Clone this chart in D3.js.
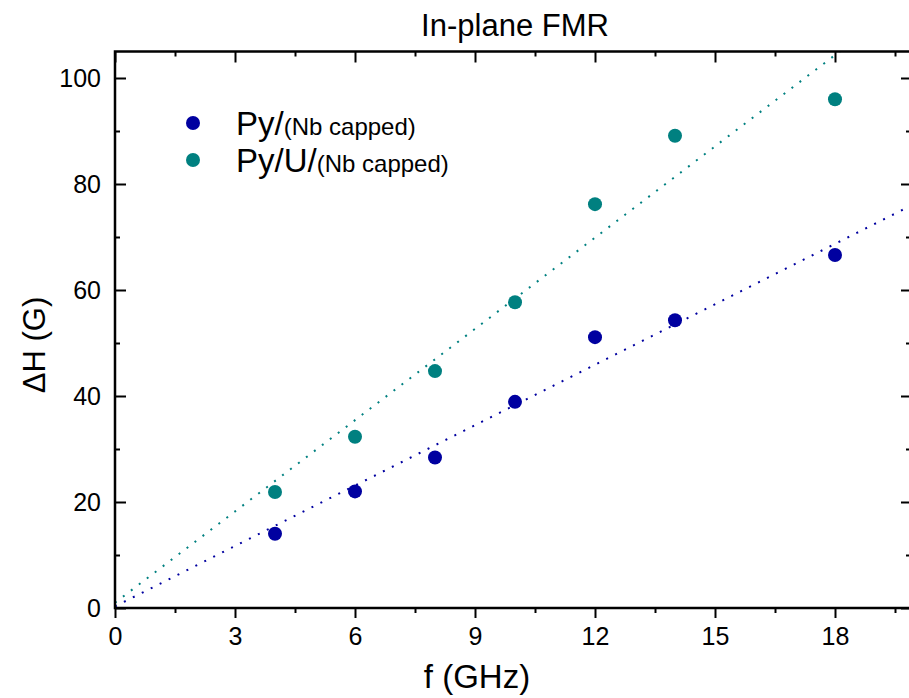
<!DOCTYPE html>
<html>
<head>
<meta charset="utf-8">
<script src="https://cdn.jsdelivr.net/npm/d3@7.9.0/dist/d3.min.js"></script>
<style>
  body { margin: 0; background: #fff; }
  svg { display: block; font-family: "Liberation Sans", Arial, sans-serif; }
</style>
</head>
<body>
<svg id="chart" width="909" height="698"></svg>
<script>
// frequencies (GHz)
const freqs = [4, 6, 8, 10, 12, 14, 18];
// linewidth dH (G)
const pyValues = [14.0, 22.0, 28.4, 38.9, 51.1, 54.3, 66.6];
const pyUValues = [21.9, 32.3, 44.7, 57.7, 76.2, 89.1, 96.0];
// linear fits [intercept, slope]
const pyFit = [0.3, 3.8];
const pyUFit = [1.0, 5.74];

const xTicks = [0, 3, 6, 9, 12, 15, 18];
const xMinor = [1.5, 4.5, 7.5, 10.5, 13.5, 16.5, 19.5];
const yTicks = [0, 20, 40, 60, 80, 100];
const yMinor = [10, 30, 50, 70, 90];

const series = [
    { label: "Py/", sub: "(Nb capped)", values: pyValues, fit: pyFit, color: "#0000a0" },
    { label: "Py/U/", sub: "(Nb capped)", values: pyUValues, fit: pyUFit, color: "#008080" }
];

const svg = d3.select("#chart");

const plotLeft = 115, plotRight = 911, plotTop = 51.5, plotBottom = 608;
const x = d3.scaleLinear().domain([0, 19.9]).range([plotLeft, plotRight]);
const y = d3.scaleLinear().domain([0, 105]).range([plotBottom, plotTop]);

svg.append("clipPath").attr("id", "clip")
    .append("rect")
    .attr("x", plotLeft).attr("y", plotTop)
    .attr("width", plotRight - plotLeft).attr("height", plotBottom - plotTop);

// fit lines (dotted)
const plot = svg.append("g").attr("clip-path", "url(#clip)");
series.forEach(s => {
    const [b, m] = s.fit;
    const xs = x.domain();
    plot.append("line")
        .attr("x1", x(xs[0])).attr("y1", y(b + m * xs[0]))
        .attr("x2", x(xs[1])).attr("y2", y(b + m * xs[1]))
        .attr("stroke", s.color)
        .attr("stroke-width", 2)
        .attr("stroke-dasharray", "2,8");
});

// points
series.forEach(s => {
    plot.selectAll(null)
        .data(freqs)
        .enter().append("circle")
        .attr("cx", d => x(d))
        .attr("cy", (d, i) => y(s.values[i]))
        .attr("r", 7)
        .attr("fill", s.color);
});

// axes
const fontSize = "25px";

svg.append("g")
    .attr("transform", `translate(0,${plotBottom})`)
    .call(d3.axisBottom(x).tickValues(xTicks).tickSize(10).tickPadding(9).tickFormat(d3.format("d")));
svg.append("g")
    .attr("transform", `translate(0,${plotBottom})`)
    .call(d3.axisBottom(x).tickValues(xMinor).tickSize(5).tickFormat(""));

svg.append("g")
    .attr("transform", `translate(0,${plotTop})`)
    .call(d3.axisTop(x).tickValues(xTicks).tickSize(-11).tickFormat(""));
svg.append("g")
    .attr("transform", `translate(0,${plotTop})`)
    .call(d3.axisTop(x).tickValues(xMinor).tickSize(-5).tickFormat(""));

svg.append("g")
    .attr("transform", `translate(${plotLeft},0)`)
    .call(d3.axisLeft(y).tickValues(yTicks).tickSize(-11).tickPadding(14).tickFormat(d3.format("d")));
svg.append("g")
    .attr("transform", `translate(${plotLeft},0)`)
    .call(d3.axisLeft(y).tickValues(yMinor).tickSize(-5).tickFormat(""));

svg.append("g")
    .attr("transform", `translate(${plotRight},0)`)
    .call(d3.axisRight(y).tickValues(yTicks).tickSize(-10).tickFormat(""));
svg.append("g")
    .attr("transform", `translate(${plotRight},0)`)
    .call(d3.axisRight(y).tickValues(yMinor).tickSize(-5).tickFormat(""));

svg.selectAll(".domain").remove();
svg.selectAll(".tick line").attr("stroke", "#000").attr("stroke-width", 2);
svg.selectAll(".tick text")
    .attr("fill", "#000")
    .style("font-size", fontSize)
    .style("font-family", "'Liberation Sans', Arial, sans-serif");

// frame
svg.append("rect")
    .attr("x", plotLeft).attr("y", plotTop)
    .attr("width", plotRight - plotLeft).attr("height", plotBottom - plotTop)
    .attr("fill", "none")
    .attr("stroke", "#000")
    .attr("stroke-width", 2.5);

// titles
svg.append("text")
    .attr("x", 515).attr("y", 36)
    .attr("text-anchor", "middle")
    .style("font-size", "31px")
    .text("In-plane FMR");

svg.append("text")
    .attr("x", 477).attr("y", 688)
    .attr("text-anchor", "middle")
    .style("font-size", "33px")
    .text("f (GHz)");

svg.append("text")
    .attr("transform", "translate(45,345) rotate(-90)")
    .attr("text-anchor", "middle")
    .style("font-size", "31px")
    .text("ΔH (G)");

// legend
const legend = svg.append("g");
series.forEach((s, i) => {
    const ly = 123 + i * 37;
    legend.append("circle")
        .attr("cx", 193).attr("cy", ly)
        .attr("r", 7)
        .attr("fill", s.color);
    const t = legend.append("text")
        .attr("x", 236).attr("y", ly + 12);
    t.append("tspan").style("font-size", "33px").text(s.label);
    t.append("tspan").style("font-size", "24px").text(s.sub);
});
</script>
</body>
</html>
